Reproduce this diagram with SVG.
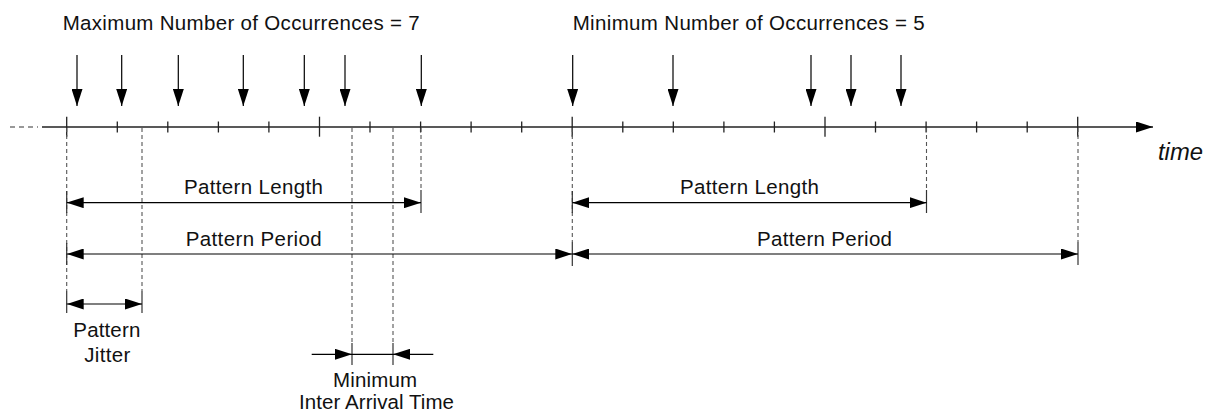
<svg xmlns="http://www.w3.org/2000/svg" width="1215" height="416" viewBox="0 0 1215 416">
<defs>
<marker id="ah" viewBox="0 0 17 11" refX="17" refY="5.5" markerWidth="17" markerHeight="11" markerUnits="userSpaceOnUse" orient="auto-start-reverse">
<path d="M0,0 L17,5.5 L0,11 z" fill="#000"/>
</marker>
<style>
.ln{stroke:#000;stroke-width:1.2;fill:none}
.ax{stroke:#222;stroke-width:1.4;fill:none}
.tk{stroke:#222;stroke-width:1.3}
.dsh{stroke:#555;stroke-width:1.1;stroke-dasharray:4,3;fill:none}
.bar{stroke:#333;stroke-width:1.2}
.arr{stroke:#000;stroke-width:1.2;fill:none;marker-end:url(#ah)}
.dbl{stroke:#000;stroke-width:1.2;fill:none;marker-start:url(#ah);marker-end:url(#ah)}
text{font-family:"Liberation Sans",Arial,sans-serif;font-size:20.5px;fill:#111}
.it{font-style:italic;font-size:24px}
</style>
</defs>
<rect width="1215" height="416" fill="#fff"/>

<g id="labels-top">
<text x="62.7" y="30" textLength="357" lengthAdjust="spacing">Maximum Number of Occurrences = 7</text>
<text x="572.7" y="30" textLength="352" lengthAdjust="spacing">Minimum Number of Occurrences = 5</text>
</g>

<g id="time-axis">
<line class="dsh" x1="10" y1="127" x2="38" y2="127" style="stroke:#333;stroke-dasharray:5,4"/>
<line class="ax" x1="42" y1="127" x2="1153" y2="127" style="marker-end:url(#ah)"/>
<g class="tk">
<line x1="66.7" y1="116.7" x2="66.7" y2="136.7"/>
<line x1="117.3" y1="121.5" x2="117.3" y2="132.5"/>
<line x1="167.8" y1="121.5" x2="167.8" y2="132.5"/>
<line x1="218.4" y1="121.5" x2="218.4" y2="132.5"/>
<line x1="268.9" y1="121.5" x2="268.9" y2="132.5"/>
<line x1="319.5" y1="116.7" x2="319.5" y2="136.7"/>
<line x1="370" y1="121.5" x2="370" y2="132.5"/>
<line x1="420.6" y1="121.5" x2="420.6" y2="132.5"/>
<line x1="471.1" y1="121.5" x2="471.1" y2="132.5"/>
<line x1="521.7" y1="121.5" x2="521.7" y2="132.5"/>
<line x1="572.2" y1="116.7" x2="572.2" y2="136.7"/>
<line x1="622.8" y1="121.5" x2="622.8" y2="132.5"/>
<line x1="673.3" y1="121.5" x2="673.3" y2="132.5"/>
<line x1="723.9" y1="121.5" x2="723.9" y2="132.5"/>
<line x1="774.4" y1="121.5" x2="774.4" y2="132.5"/>
<line x1="825" y1="116.7" x2="825" y2="136.7"/>
<line x1="875.5" y1="121.5" x2="875.5" y2="132.5"/>
<line x1="926.1" y1="121.5" x2="926.1" y2="132.5"/>
<line x1="976.6" y1="121.5" x2="976.6" y2="132.5"/>
<line x1="1027.2" y1="121.5" x2="1027.2" y2="132.5"/>
<line x1="1077.7" y1="116.7" x2="1077.7" y2="136.7"/>
</g>
<text class="it" x="1158" y="160" textLength="45" lengthAdjust="spacingAndGlyphs">time</text>
</g>

<g id="occurrences">
<line class="arr" x1="77" y1="55" x2="77" y2="106"/>
<line class="arr" x1="121.7" y1="55" x2="121.7" y2="106"/>
<line class="arr" x1="178.3" y1="55" x2="178.3" y2="106"/>
<line class="arr" x1="243.3" y1="55" x2="243.3" y2="106"/>
<line class="arr" x1="304.3" y1="55" x2="304.3" y2="106"/>
<line class="arr" x1="345" y1="55" x2="345" y2="106"/>
<line class="arr" x1="421.3" y1="55" x2="421.3" y2="106"/>
<line class="arr" x1="572.7" y1="55" x2="572.7" y2="106"/>
<line class="arr" x1="673" y1="55" x2="673" y2="106"/>
<line class="arr" x1="811" y1="55" x2="811" y2="106"/>
<line class="arr" x1="851" y1="55" x2="851" y2="106"/>
<line class="arr" x1="901" y1="55" x2="901" y2="106"/>
</g>

<g id="connectors">
<line class="dsh" x1="66.7" y1="128" x2="66.7" y2="291"/>
<line class="dsh" x1="142" y1="128" x2="142" y2="291"/>
<line class="dsh" x1="352" y1="128" x2="352" y2="343"/>
<line class="dsh" x1="393" y1="128" x2="393" y2="343"/>
<line class="dsh" x1="421" y1="128" x2="421" y2="190"/>
<line class="dsh" x1="572.3" y1="128" x2="572.3" y2="242"/>
<line class="dsh" x1="926.5" y1="128" x2="926.5" y2="190"/>
<line class="dsh" x1="1078" y1="128" x2="1078" y2="242"/>
<g class="bar">
<line x1="66.7" y1="191" x2="66.7" y2="213"/>
<line x1="66.7" y1="243" x2="66.7" y2="265"/>
<line x1="421" y1="190" x2="421" y2="213"/>
<line x1="572.3" y1="191" x2="572.3" y2="213"/>
<line x1="572.3" y1="242" x2="572.3" y2="266"/>
<line x1="926.5" y1="190" x2="926.5" y2="213"/>
<line x1="1078" y1="242" x2="1078" y2="265"/>
<line x1="66.7" y1="291" x2="66.7" y2="313"/>
<line x1="142" y1="291" x2="142" y2="313"/>
<line x1="352" y1="343" x2="352" y2="365"/>
<line x1="393" y1="343" x2="393" y2="365"/>
</g>
</g>

<g id="pattern-length-1">
<line class="dbl" x1="66.7" y1="202.7" x2="421" y2="202.7"/>
<text x="184" y="194" textLength="139" lengthAdjust="spacing">Pattern Length</text>
</g>
<g id="pattern-period-1">
<line class="dbl" x1="66.7" y1="254" x2="572.3" y2="254"/>
<text x="185.7" y="245.7" textLength="136" lengthAdjust="spacing">Pattern Period</text>
</g>
<g id="pattern-length-2">
<line class="dbl" x1="572.3" y1="202.7" x2="926.5" y2="202.7"/>
<text x="680" y="194" textLength="139" lengthAdjust="spacing">Pattern Length</text>
</g>
<g id="pattern-period-2">
<line class="dbl" x1="572.3" y1="254" x2="1078" y2="254"/>
<text x="757" y="245.7" textLength="135" lengthAdjust="spacing">Pattern Period</text>
</g>
<g id="pattern-jitter">
<line class="dbl" x1="66.7" y1="304" x2="142" y2="304"/>
<text x="73.3" y="337" textLength="67" lengthAdjust="spacing">Pattern</text>
<text x="84.3" y="361.7" textLength="46" lengthAdjust="spacing">Jitter</text>
</g>
<g id="min-inter-arrival">
<line class="arr" x1="311.7" y1="354.3" x2="352" y2="354.3"/>
<line class="ln" x1="352" y1="354.3" x2="393" y2="354.3"/>
<line class="arr" x1="433.3" y1="354.3" x2="393" y2="354.3"/>
<text x="333" y="386.7" textLength="84" lengthAdjust="spacing">Minimum</text>
<text x="299" y="409.3" textLength="155" lengthAdjust="spacing">Inter Arrival Time</text>
</g>
</svg>
